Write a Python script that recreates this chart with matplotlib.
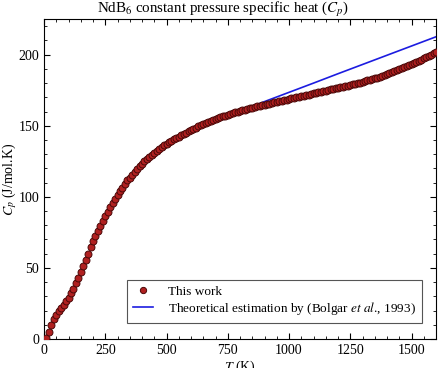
import matplotlib
matplotlib.use("Agg")
import matplotlib.pyplot as plt
import numpy as np
from matplotlib.ticker import MultipleLocator

plt.rcParams['font.family'] = ['Liberation Serif', 'DejaVu Serif']
plt.rcParams['mathtext.fontset'] = 'stix'

# Measured data, every 10 K from 10 K to 1600 K
temp_work = np.arange(10, 1610, 10)
cp_work = [
    0.5, 5, 10, 14, 17, 19.5, 21.5, 24, 26.5, 29,
    32, 35, 39, 43, 47, 51, 55.5, 60, 64.5, 69,
    72.5, 76, 79.5, 83, 86.5, 89.5, 92.5, 95.5, 98.5, 101.5,
    104, 106.5, 109, 111.5, 113.5, 115.5, 117.5, 119.5, 121.5, 123.3,
    125, 126.6, 128.2, 129.7, 131.1, 132.5, 133.8, 135, 136.1, 137.2,
    138.3, 139.4, 140.4, 141.4, 142.4, 143.4, 144.3, 145.2, 146.1, 147,
    147.9, 148.7, 149.5, 150.3, 151.1, 151.9, 152.6, 153.3, 154, 154.7,
    155.3, 155.9, 156.5, 157.1, 157.7, 158.3, 158.9, 159.4, 159.9, 160.4,
    160.9, 161.4, 161.9, 162.4, 162.8, 163.2, 163.6, 164, 164.4, 164.8,
    165.2, 165.6, 166, 166.4, 166.8, 167.2, 167.6, 168, 168.4, 168.8,
    169.2, 169.6, 170, 170.4, 170.8, 171.2, 171.5, 171.9, 172.3, 172.7,
    173.1, 173.5, 173.9, 174.3, 174.7, 175.1, 175.5, 175.9, 176.3, 176.7,
    177.1, 177.5, 177.9, 178.3, 178.7, 179.1, 179.5, 179.9, 180.4, 180.9,
    181.4, 181.9, 182.4, 182.9, 183.4, 183.9, 184.5, 185.1, 185.7, 186.3,
    186.9, 187.6, 188.3, 189, 189.7, 190.4, 191.1, 191.8, 192.6, 193.4,
    194.2, 195, 195.8, 196.6, 197.4, 198.2, 199.1, 200, 201, 202,
]

# Theoretical estimation (Bolgar et al., 1993)
temp_theory = [300, 400, 500, 600, 700, 800, 850, 900, 1000, 1100,
               1200, 1300, 1400, 1500, 1600]
cp_theory = [101, 122.5, 136.5, 146.5, 154, 160, 163.5, 167, 173.5, 180,
             186.6, 193.1, 199.6, 206.1, 212.6]

fig = plt.figure(figsize=(4.4, 3.68), dpi=100)
ax = fig.add_axes([0.1, 0.079, 0.891, 0.869])

ax.plot(temp_theory, cp_theory, color='#1c1ce0', lw=1.2, zorder=2,
        label='Theoretical estimation by (Bolgar $\\mathit{et\\ al}$., 1993)')
ax.plot(temp_work, cp_work, 'o', ms=5, mfc='#b02020', mec='#4a0808',
        mew=0.7, zorder=3, label='This work')

ax.set_xlim(0, 1600)
ax.set_ylim(0, 225)
ax.xaxis.set_major_locator(MultipleLocator(250))
ax.xaxis.set_minor_locator(MultipleLocator(50))
ax.yaxis.set_major_locator(MultipleLocator(50))
ax.yaxis.set_minor_locator(MultipleLocator(10))
ax.tick_params(which='both', direction='in', top=True, right=True, labelsize=10)
ax.tick_params(which='major', length=4)
ax.tick_params(which='minor', length=2)

ax.set_title('NdB$_6$ constant pressure specific heat ($C_p$)', fontsize=10.8,
             x=0.457, pad=3)
ax.set_xlabel('$T$ (K)', fontsize=10, labelpad=1)
ax.set_ylabel('$C_p$ (J/mol.K)', fontsize=10)
ax.yaxis.set_label_coords(-0.064, 0.5)

handles, labels = ax.get_legend_handles_labels()
leg = ax.legend(handles[::-1], labels[::-1], loc='lower right', fontsize=9.5,
                fancybox=False, edgecolor='#555555', framealpha=1,
                bbox_to_anchor=(0.963, 0.05), borderaxespad=0, borderpad=0.45,
                labelspacing=0.15, handlelength=1.5, handletextpad=1.1,
                markerscale=0.9)
leg.get_frame().set_linewidth(0.8)

fig.savefig('out.png', dpi=100)
